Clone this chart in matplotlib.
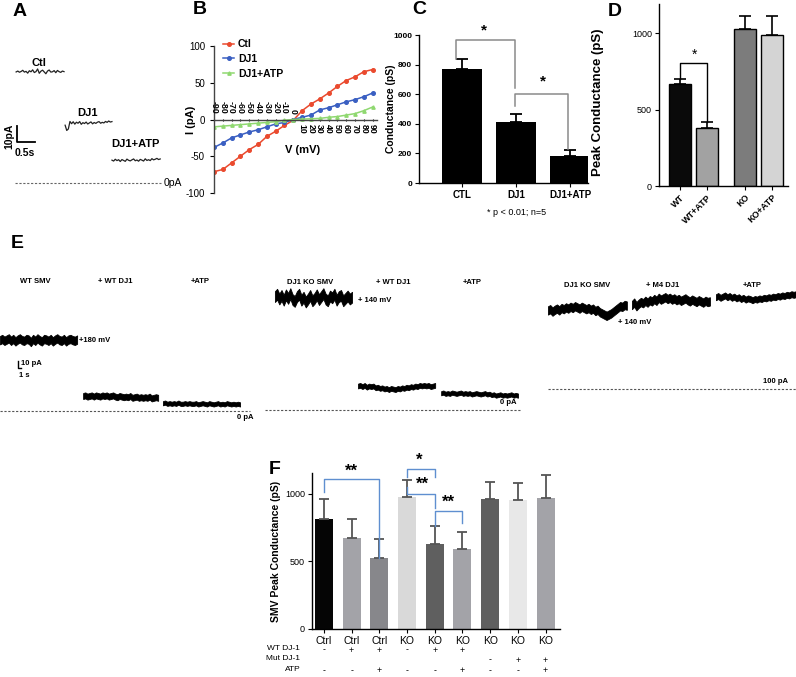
import numpy as np
import matplotlib
matplotlib.use('Agg')
import matplotlib.pyplot as plt

plt.rcParams['font.family'] = ['Liberation Sans', 'DejaVu Sans']
plt.rcParams['axes.linewidth'] = 1.0

# ---------------- data ----------------
# A: single channel traces (pA)
a_ctl = [74.0, 74.6, 73.8, 74.3, 75.1, 73.9, 74.4, 73.2, 74.8, 74.1, 75.4, 73.6, 74.2, 76.0, 73.1,
         74.5, 75.2, 74.0, 72.8, 74.6, 75.3, 73.9, 74.1, 74.9, 73.5, 75.0, 74.2, 73.7, 74.6, 74.2]
a_dj1 = [38.5, 35.0, 36.0, 41.0, 39.5, 40.8, 39.2, 40.5, 39.8, 40.9, 39.1, 40.2, 39.6, 40.6, 39.3,
         40.0, 40.7, 39.4, 40.3, 39.7, 40.5, 40.9, 39.8, 40.4, 40.0, 41.0, 40.4, 41.3, 40.6, 40.9]
a_atp = [15.2, 14.6, 15.8, 14.9, 15.5, 14.3, 15.6, 15.0, 14.4, 15.9, 15.1, 14.7, 15.4, 16.0, 14.8,
         15.3, 14.5, 15.7, 15.2, 14.6, 16.1, 15.0, 15.5, 14.9, 16.2, 15.4, 15.8, 16.4, 15.6, 16.0]

# B: I-V relationship
b_volt = [-90, -80, -70, -60, -50, -40, -30, -20, -10, 0, 10, 20, 30, 40, 50, 60, 70, 80, 90]
b_ctl = [-71, -68, -59, -50, -41, -34, -23, -16, -8, -1, 12, 21, 28, 36, 45, 53, 58, 65, 68]
b_dj1 = [-38, -32, -25, -21, -17, -14, -10, -6, -4, 0, 3, 6, 13, 16, 20, 24, 27, 31, 36]
b_atp = [-10, -9, -8, -7, -6, -5, -4, -3, -1, 0, 0.5, 1, 1.5, 3, 4, 6, 8, 12, 17]

# C: conductance
c_groups = ['CTL', 'DJ1', 'DJ1+ATP']
c_mean = [770, 415, 185]
c_err = [65, 52, 40]

# D: peak conductance
d_groups = ['WT', 'WT+ATP', 'KO', 'KO+ATP']
d_mean = [664, 377, 1024, 985]
d_err = [37, 39, 89, 128]
d_colors = ['#0a0a0a', '#a2a2a2', '#7c7c7c', '#d4d4d4']

# E: SMV traces (pA)
e1_smv = [118, 120, 117, 119, 121, 117, 120, 116, 119, 121, 118, 117, 120, 119, 115, 120, 117, 121,
          118, 116, 120, 119, 117, 120, 116, 119, 121, 118, 117, 120, 116, 119, 120, 118, 117, 119]
e1_dj1 = [25, 26, 24, 25, 26, 24, 26, 25, 24, 26, 25, 26, 24, 25, 26, 24, 23, 25,
          24, 23, 24, 23, 25, 22, 23, 24, 22, 23, 22, 23, 22, 24, 21, 22, 23, 22]
e1_atp = [13, 14, 12, 13, 12, 13, 12, 14, 12, 12, 13, 12, 13, 12, 12, 13, 11, 12,
          13, 12, 11, 13, 12, 11, 12, 13, 11, 12, 11, 13, 12, 11, 12, 11, 12, 11]
e2_smv = [189, 193, 185, 191, 183, 192, 186, 194, 184, 181, 189, 193, 183, 188, 180, 185, 191, 182,
          186, 192, 184, 189, 194, 185, 182, 190, 187, 193, 183, 189, 191, 182, 186, 190, 185, 188]
e2_dj1 = [40, 41, 39, 41, 38, 40, 39, 40, 37, 38, 36, 37, 35, 36, 34, 36, 35, 34,
          36, 35, 37, 36, 38, 37, 39, 38, 40, 39, 41, 40, 41, 40, 41, 39, 40, 41]
e2_atp = [28, 29, 27, 28, 27, 29, 28, 27, 28, 29, 27, 28, 27, 28, 26, 27, 28, 27,
          26, 27, 28, 26, 27, 25, 26, 24, 25, 26, 24, 25, 24, 25, 26, 24, 25, 24]
e3_smv = [231, 233, 229, 232, 234, 231, 235, 233, 236, 234, 237, 235, 238, 236, 234, 237, 235, 233,
          235, 232, 234, 230, 232, 228, 226, 224, 222, 224, 226, 229, 232, 235, 238, 237, 240, 239]
e3_dj1 = [240, 244, 238, 242, 245, 243, 247, 244, 248, 246, 250, 247, 252, 249, 251, 253, 250, 252,
          249, 251, 248, 250, 247, 249, 251, 248, 246, 249, 247, 245, 248, 246, 244, 247, 245, 246]
e3_atp = [253, 255, 252, 254, 256, 253, 255, 252, 254, 251, 253, 250, 252, 249, 251, 250, 248, 250,
          249, 251, 250, 252, 251, 253, 252, 254, 253, 255, 254, 256, 255, 257, 256, 258, 257, 258]

# F: SMV peak conductance
f_labels = ['Ctrl', 'Ctrl', 'Ctrl', 'KO', 'KO', 'KO', 'KO', 'KO', 'KO']
f_mean = [817, 677, 523, 978, 630, 593, 963, 955, 973]
f_err = [143, 140, 141, 126, 133, 125, 128, 126, 165]
f_colors = ['#050505', '#a3a3a8', '#87878b', '#d9d9d9', '#5f5f5f', '#a3a3a8', '#5f5f5f', '#e8e8e8', '#a3a3a8']
f_rows = ['WT DJ-1', 'Mut DJ-1', 'ATP']
f_wt = ['-', '+', '+', '-', '+', '+', '', '', '']
f_mut = ['', '', '', '', '', '', '-', '+', '+']
f_atp = ['-', '-', '+', '-', '-', '+', '-', '-', '+']

# ---------------- figure ----------------
W, H = 796, 677
fig = plt.figure(figsize=(W / 100, H / 100), dpi=100)


def box(x0, y0, x1, y1):
    # axes from a pixel box, origin at top-left
    return fig.add_axes([x0 / W, 1 - y1 / H, (x1 - x0) / W, (y1 - y0) / H])


def letter(x, y, s):
    fig.text(x / W, 1 - y / H, s, fontsize=14, weight='bold', ha='center', va='center')


def band(ax, vals, t0, t1, half):
    # noisy recording drawn as a filled band around the trace values
    t = np.linspace(t0, t1, len(vals))
    v = np.array(vals, dtype=float)
    ax.fill_between(t, v - half, v + half, color='black', lw=0.6, edgecolor='black', clip_on=False)


bold = dict(weight='bold')

# ---- A ----
ax = box(10, 55, 175, 190)
ax.set_xlim(-0.14, 4.44)
ax.set_ylim(-4.7, 85.3)
ax.axis('off')
for vals, t0, t1 in [(a_ctl, 0.03, 1.36), (a_dj1, 1.39, 2.69), (a_atp, 2.69, 4.03)]:
    ax.plot(np.linspace(t0, t1, len(vals)), vals, color='#222222', lw=0.9)
ax.plot([0, 4.05], [0, 0], color='#666666', lw=0.8, ls=(0, (2, 1.5)))
ax.text(4.12, 0, '0pA', fontsize=7.5, va='center', ha='left')
ax.text(0.65, 80, 'Ctl', fontsize=8, ha='center', va='center', **bold)
ax.text(2.0, 46.5, 'DJ1', fontsize=8, ha='center', va='center', **bold)
ax.text(3.35, 26, 'DJ1+ATP', fontsize=8, ha='center', va='center', **bold)
ax.plot([0.05, 0.05, 0.55], [38, 27, 27], color='black', lw=1.3)
ax.text(-0.17, 31, '10pA', fontsize=7.5, rotation=90, ha='center', va='center', clip_on=False, **bold)
ax.text(0.28, 20, '0.5s', fontsize=7.5, ha='center', va='center', **bold)
letter(20, 12, 'A')

# ---- B ----
ax = box(214, 46, 377, 193)
ax.set_xlim(-90, 95)
ax.set_ylim(-100, 100)
ax.plot(b_volt, b_ctl, '-o', color='#ea4a2e', ms=2.6, lw=1.1, label='Ctl')
ax.plot(b_volt, b_dj1, '-o', color='#3a5fc2', ms=2.6, lw=1.1, label='DJ1')
ax.plot(b_volt, b_atp, '-^', color='#8fd870', ms=2.4, lw=1.1, label='DJ1+ATP')
for s in ['top', 'right']:
    ax.spines[s].set_visible(False)
ax.spines['bottom'].set_position(('data', 0))
ax.spines['left'].set_color('#444444')
ax.spines['bottom'].set_color('#444444')
ax.set_yticks([-100, -50, 0, 50, 100])
ax.set_yticklabels(['-100', '-50', '0', '50', '100'], fontsize=7)
ax.set_xticks(b_volt)
ax.set_xticklabels([])
ax.tick_params(axis='x', length=2, direction='inout')
ax.tick_params(axis='y', length=3)
for v in b_volt:
    if v <= 0:
        ax.annotate(str(v), (v, 0), xytext=(0, 4), textcoords='offset points', rotation=-90,
                    ha='center', va='bottom', fontsize=6.3, **bold)
    else:
        ax.annotate(str(v), (v, 0), xytext=(0, -3), textcoords='offset points', rotation=-90,
                    ha='center', va='top', fontsize=6.3, **bold)
ax.text(10, -42, 'V (mV)', fontsize=8, ha='center', va='center', **bold)
ax.set_ylabel('I (pA)', fontsize=8, **bold)
ax.yaxis.set_label_coords(-0.11, 0.5)
ax.legend(loc='upper left', bbox_to_anchor=(0.0, 1.11), frameon=False, handlelength=1.0,
          handletextpad=0.4, labelspacing=0.45, prop={'size': 7.5, 'weight': 'bold'})
letter(200, 10, 'B')

# ---- C ----
ax = box(419, 35, 588, 183)
cx = np.arange(len(c_groups))
ax.bar(cx, c_mean, width=0.74, color='black')
ax.errorbar(cx, c_mean, yerr=[np.zeros(len(cx)), c_err], fmt='none', ecolor='black',
            elinewidth=1.3, capsize=4.5, capthick=1.3)
ax.set_xlim(-0.8, 2.33)
ax.set_ylim(0, 1000)
for s in ['top', 'right']:
    ax.spines[s].set_visible(False)
ax.set_yticks(range(0, 1001, 200))
ax.set_yticklabels([str(v) for v in range(0, 1001, 200)], fontsize=6, **bold)
ax.set_xticks(cx)
ax.set_xticklabels(c_groups, fontsize=7, **bold)
ax.tick_params(length=3, pad=2)
ax.set_ylabel('Conductance (pS)', fontsize=7.5, **bold)
ax.yaxis.set_label_coords(-0.135, 0.5)
gray = '#8a8a8a'
ax.plot([-0.12, -0.12, 0.98, 0.98], [835, 966, 966, 640], color=gray, lw=1.1, clip_on=False)
ax.plot([0.98, 0.98, 1.96, 1.96], [520, 601, 601, 232], color=gray, lw=1.1, clip_on=False)
ax.text(0.4, 1030, '*', fontsize=11, ha='center', va='center', clip_on=False, **bold)
ax.text(1.5, 685, '*', fontsize=11, ha='center', va='center', **bold)
ax.text(1.0, -0.2, '* p < 0.01; n=5', transform=ax.get_xaxis_transform(), fontsize=6.5,
        ha='center', va='center')
letter(419, 10, 'C')

# ---- D ----
ax = box(659, 4, 788, 186)
dx = [0, 1, 2.4, 3.4]
ax.bar(dx, d_mean, width=0.81, color=d_colors, edgecolor='black', linewidth=1)
ax.errorbar(dx, d_mean, yerr=[np.zeros(4), d_err], fmt='none', ecolor='black',
            elinewidth=1.2, capsize=4, capthick=1.2)
ax.set_xlim(-0.78, 4.0)
ax.set_ylim(0, 1190)
for s in ['top', 'right']:
    ax.spines[s].set_visible(False)
ax.set_yticks([0, 500, 1000])
ax.set_yticklabels(['0', '500', '1000'], fontsize=6.5)
ax.set_xticks(dx)
ax.set_xticklabels(d_groups, fontsize=6.5, rotation=45, ha='right', rotation_mode='anchor', **bold)
ax.tick_params(length=3, pad=2)
ax.set_ylabel('Peak Conductance (pS)', fontsize=9.5, **bold)
ax.yaxis.set_label_coords(-0.425, 0.46)
ax.plot([0, 0, 1, 1], [701, 806, 806, 420], color='black', lw=1)
ax.text(0.52, 860, '*', fontsize=10, ha='center', va='center')
letter(615, 12, 'D')

# ---- E ----
dash = (0, (2, 1.5))
efont = dict(fontsize=5.5, weight='bold')

ax = box(0, 265, 262, 425)
ax.set_xlim(0, 87.3)
ax.set_ylim(-23.3, 243.3)
ax.axis('off')
for vals, t0, t1, half in [(e1_smv, 0, 25.7, 7), (e1_dj1, 27.7, 52.7, 5), (e1_atp, 54.3, 80, 3.5)]:
    band(ax, vals, t0, t1, half)
ax.plot([0, 83.3], [0, 0], color='#555555', lw=0.8, ls=dash)
ax.text(11.7, 215, 'WT SMV', ha='center', va='center', **efont)
ax.text(38.3, 215, '+ WT DJ1', ha='center', va='center', **efont)
ax.text(66.7, 215, '+ATP', ha='center', va='center', **efont)
ax.text(26.3, 117, '+180 mV', ha='left', va='center', **efont)
ax.text(81.7, -10, '0 pA', ha='center', va='center', **efont)
ax.plot([6, 6, 7], [83, 71, 71], color='black', lw=1)
ax.text(7, 80, '10 pA', ha='left', va='center', **efont)
ax.text(6.3, 60, '1 s', ha='left', va='center', **efont)
letter(17, 243, 'E')

ax = box(265, 265, 527, 425)
ax.set_xlim(0, 87.3)
ax.set_ylim(-25, 241.7)
ax.axis('off')
for vals, t0, t1, half in [(e2_smv, 3.3, 29, 9), (e2_dj1, 31, 56.7, 4), (e2_atp, 58.7, 84.3, 3.5)]:
    band(ax, vals, t0, t1, half)
ax.plot([0, 85], [0, 0], color='#555555', lw=0.8, ls=dash)
ax.text(15, 213, 'DJ1 KO SMV', ha='center', va='center', **efont)
ax.text(42.7, 213, '+ WT DJ1', ha='center', va='center', **efont)
ax.text(69, 213, '+ATP', ha='center', va='center', **efont)
ax.text(31, 182, '+ 140 mV', ha='left', va='center', **efont)
ax.text(81, 12, '0 pA', ha='center', va='center', **efont)

ax = box(530, 265, 796, 425)
ax.set_xlim(0, 88.7)
ax.set_ylim(40, 306.7)
ax.axis('off')
for vals, t0, t1, half in [(e3_smv, 6, 32.3, 7), (e3_dj1, 34, 60, 7), (e3_atp, 62, 88.7, 5)]:
    band(ax, vals, t0, t1, half)
ax.plot([6, 88.7], [100, 100], color='#555555', lw=0.8, ls=dash)
ax.text(19, 273, 'DJ1 KO SMV', ha='center', va='center', **efont)
ax.text(44.3, 273, '+ M4 DJ1', ha='center', va='center', **efont)
ax.text(74, 273, '+ATP', ha='center', va='center', **efont)
ax.text(35, 211, '+ 140 mV', ha='center', va='center', **efont)
ax.text(81.7, 112, '100 pA', ha='center', va='center', **efont)

# ---- F ----
ax = box(312, 473, 560, 629)
fx = np.arange(len(f_mean))
ax.bar(fx, f_mean, width=0.65, color=f_colors)
ax.errorbar(fx, f_mean, yerr=[np.zeros(len(fx)), f_err], fmt='none', ecolor='#555555',
            elinewidth=1.3, capsize=3.5, capthick=1.3)
ax.set_xlim(-0.43, 8.52)
ax.set_ylim(0, 1155)
for s in ['top', 'right']:
    ax.spines[s].set_visible(False)
ax.set_yticks([0, 500, 1000])
ax.set_yticklabels(['0', '500', '1000'], fontsize=6.5)
ax.set_xticks(fx)
ax.set_xticklabels(f_labels, fontsize=7.5)
ax.tick_params(length=3, pad=2)
ax.set_ylabel('SMV Peak Conductance (pS)', fontsize=7.5, labelpad=3, **bold)
blue = '#5f8fd0'
ax.plot([0, 0, 2, 2], [1017, 1111, 1111, 523], color=blue, lw=1, clip_on=False)
ax.text(1, 1165, '**', fontsize=12, ha='center', va='center', clip_on=False, **bold)
ax.plot([3, 3, 4, 4], [1123, 1183, 1183, 1123], color=blue, lw=1, clip_on=False)
ax.text(3.45, 1250, '*', fontsize=12, ha='center', va='center', clip_on=False, **bold)
ax.plot([3, 3, 4, 4], [1050, 1000, 1000, 894], color=blue, lw=1, clip_on=False)
ax.text(3.55, 1070, '**', fontsize=12, ha='center', va='center', clip_on=False, **bold)
ax.plot([4, 4, 5, 5], [763, 874, 874, 783], color=blue, lw=1)
ax.text(4.5, 940, '**', fontsize=12, ha='center', va='center', **bold)
xt = ax.get_xaxis_transform()
for row, ry in zip([f_wt, f_mut, f_atp], [-0.135, -0.199, -0.268]):
    for i, s in enumerate(row):
        if s:
            ax.text(i, ry, s, transform=xt, fontsize=6.3, ha='center', va='center')
for name, ry in zip(f_rows, [-0.128, -0.186, -0.262]):
    ax.text(-0.85, ry, name, transform=xt, fontsize=6, ha='right', va='center')
letter(275, 470, 'F')

fig.savefig('out.png', dpi=100)
